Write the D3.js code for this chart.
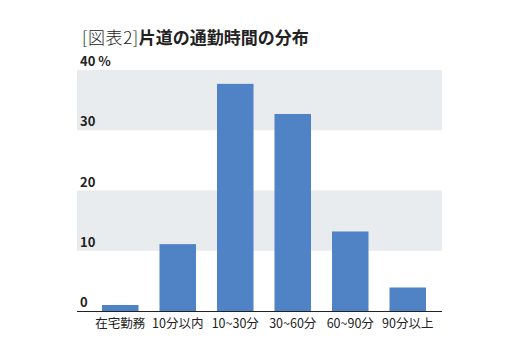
<!DOCTYPE html>
<html><head><meta charset="utf-8">
<script src="https://cdn.jsdelivr.net/npm/d3@7"></script>
<style>body{margin:0;background:#fff}svg{display:block}text{font-family:"Noto Sans CJK JP","Noto Sans",sans-serif}</style>
</head><body>
<svg id="c" width="517" height="361"></svg>
<script>
const categories = ["在宅勤務","10分以内","10~30分","30~60分","60~90分","90分以上"];
const values = [1.0, 11.1, 37.7, 32.7, 13.2, 3.9];
const tickValues = [0, 10, 20, 30, 40];
const tickLabels = ["0","10","20","30","40 %"];

(function(){
const svg = d3.select("#c");
const plotL = 77, plotR = 442, plotTop = 70, base = 311;
const y = d3.scaleLinear().domain([0,40]).range([base, plotTop]);
const x = d3.scaleBand().domain(categories).range([91.5, 436.5]).paddingInner(0.365).paddingOuter(0.1825);

// bands
[[30,40],[10,20]].forEach(([a,b])=>{
  svg.append("rect").attr("x",plotL).attr("width",plotR-plotL)
    .attr("y",y(b)).attr("height",y(a)-y(b)).attr("fill","#e9ecef");
});

// bars
svg.selectAll("rect.bar").data(values).enter().append("rect").attr("class","bar")
  .attr("x",(d,i)=>x(categories[i])).attr("width",x.bandwidth())
  .attr("y",d=>y(d)).attr("height",d=>base-y(d)).attr("fill","#4f83c6");

// axis line
svg.append("line").attr("x1",plotL).attr("x2",plotR).attr("y1",base+0.5).attr("y2",base+0.5)
  .attr("stroke","#222").attr("stroke-width",1);

// y tick labels
svg.selectAll("text.yt").data(tickValues).enter().append("text").attr("class","yt")
  .attr("x",80).attr("y",d=>y(d)-4).attr("font-size",13).attr("font-weight","bold").attr("fill","#222")
  .text((d,i)=>tickLabels[i].replace(" ","\u00a0"));

// x labels
svg.selectAll("text.xt").data(categories).enter().append("text").attr("class","xt")
  .attr("x",d=>x(d)+x.bandwidth()/2).attr("y",328).attr("text-anchor","middle")
  .attr("font-size",12.5).attr("fill","#222").text(d=>d);

// title
const t = svg.append("text").attr("x",82).attr("y",44).attr("font-size",17).attr("fill","#222");
t.append("tspan").attr("font-weight","300").attr("letter-spacing","0.6").text("[図表2]");
t.append("tspan").attr("font-weight","bold").text("片道の通勤時間の分布");
})();
</script>
</body></html>
